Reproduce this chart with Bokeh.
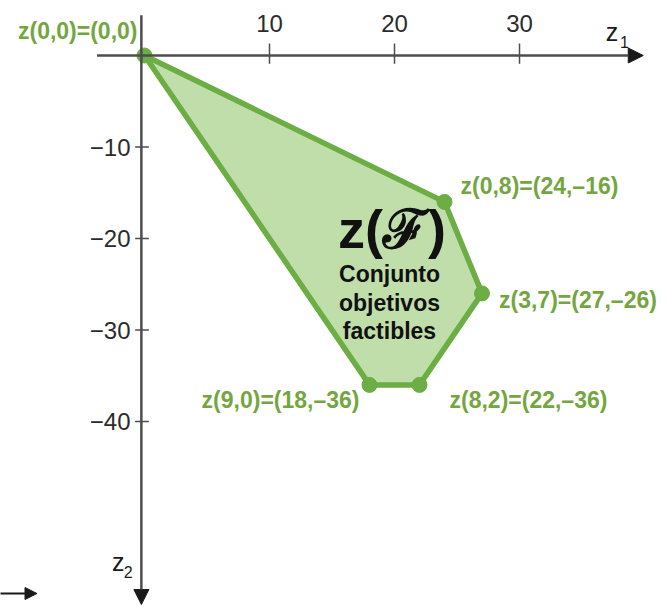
from bokeh.plotting import figure
from bokeh.models import Range1d, Arrow, NormalHead, ColumnDataSource
from bokeh.core.properties import value
from bokeh.embed import file_html
from bokeh.resources import INLINE

# Image of the feasible set in objective space
vertex_names = ["z(0,0)=(0,0)", "z(0,8)=(24,\u201316)", "z(3,7)=(27,\u201326)",
                "z(8,2)=(22,\u201336)", "z(9,0)=(18,\u201336)"]
z1_vals = [0, 24, 27, 22, 18]
z2_vals = [0, -16, -26, -36, -36]

x_ticks = [10, 20, 30]
x_tick_labels = ["10", "20", "30"]
y_ticks = [-10, -20, -30, -40]
y_tick_labels = ["\u221210", "\u221220", "\u221230", "\u221240"]

center_title = "z(\u2131)"
center_lines = ["Conjunto", "objetivos", "factibles"]

W, H = 667, 606
PX_X = 12.5    # pixels per unit on z1
PX_Y = 9.15    # pixels per unit on z2
OX, OY = 144, 55  # pixel position of the origin

GREEN_EDGE = "#6cad44"
GREEN_FILL = "#bcdca4"
GREEN_TEXT = "#74a63f"
AXIS = "#4d4d4d"
FONT = "Liberation Sans"

p = figure(width=W, height=H, output_backend="svg", toolbar_location=None,
           x_axis_location=None, y_axis_location=None, min_border=0,
           x_range=Range1d(-OX / PX_X, (W - OX) / PX_X),
           y_range=Range1d(-(H - OY) / PX_Y, OY / PX_Y))
p.grid.visible = False
p.outline_line_color = None
p.background_fill_color = "white"
p.border_fill_color = "white"

# coordinate axes with arrow heads
p.add_layout(Arrow(x_start=-3.8, y_start=0, x_end=39.9, y_end=0,
                   line_color=AXIS, line_width=2.5,
                   end=NormalHead(size=15, fill_color="#1a1a1a", line_color="#1a1a1a")))
p.add_layout(Arrow(x_start=-0.25, y_start=4.4, x_end=-0.25, y_end=-60.0,
                   line_color=AXIS, line_width=2.5,
                   end=NormalHead(size=15, fill_color="#1a1a1a", line_color="#1a1a1a")))
# small stray arrow in the lower left corner
p.add_layout(Arrow(x_start=-11.6, y_start=-58.8, x_end=-8.6, y_end=-58.8,
                   line_color="#1a1a1a", line_width=2,
                   end=NormalHead(size=12, fill_color="#1a1a1a", line_color="#1a1a1a")))

# tick marks
p.segment(x0=x_ticks, x1=x_ticks, y0=[1.3] * 3, y1=[-0.9] * 3, line_color=AXIS, line_width=1.5)
p.segment(x0=[-0.75] * 4, x1=[0.35] * 4, y0=y_ticks, y1=y_ticks, line_color=AXIS, line_width=1.5)

p.text(x=x_ticks, y=[0] * 3, text=x_tick_labels, y_offset=-32,
       text_align="center", text_baseline="middle",
       text_font=value(FONT), text_font_size="24px", text_color="#2b2b2b")
p.text(x=[0] * 4, y=y_ticks, text=y_tick_labels, x_offset=-14,
       text_align="right", text_baseline="middle",
       text_font=value(FONT), text_font_size="24px", text_color="#2b2b2b")

# axis names
p.text(x=[37.4], y=[2.6], text=["z"], text_align="center", text_baseline="middle",
       text_font=value(FONT), text_font_size="25px", text_color="#1a1a1a")
p.text(x=[38.4], y=[1.5], text=["1"], text_align="center", text_baseline="middle",
       text_font=value(FONT), text_font_size="16px", text_color="#1a1a1a")
p.text(x=[-2.1], y=[-55.4], text=["z"], text_align="center", text_baseline="middle",
       text_font=value(FONT), text_font_size="25px", text_color="#1a1a1a")
p.text(x=[-1.3], y=[-56.5], text=["2"], text_align="center", text_baseline="middle",
       text_font=value(FONT), text_font_size="16px", text_color="#1a1a1a")

# feasible objective region
p.patch(x=z1_vals, y=z2_vals, fill_color=GREEN_FILL, fill_alpha=0.95,
        line_color=GREEN_EDGE, line_width=5.5, line_join="round")
p.scatter(x=z1_vals, y=z2_vals, size=15, fill_color=GREEN_EDGE, line_color=GREEN_EDGE)

# vertex labels
src = ColumnDataSource(dict(
    x=z1_vals, y=z2_vals, text=vertex_names,
    align=["right", "left", "left", "left", "right"],
    dx=[-7, 16, 17, 30, -10],
    dy=[-25, -16, 7, 15, 15],
))
p.text(x="x", y="y", text="text", source=src, x_offset="dx", y_offset="dy",
       text_align="align", text_baseline="middle",
       text_font=value(FONT), text_font_style="bold", text_font_size="23px",
       text_color=GREEN_TEXT)

# region caption
p.text(x=[19.8], y=[-19.0], text=[center_title], text_align="center", text_baseline="middle",
       text_font=value(FONT), text_font_style="bold", text_font_size="54px",
       text_color="#111111")
p.text(x=[19.6] * 3, y=[-23.9, -27.1, -30.1], text=center_lines,
       text_align="center", text_baseline="middle",
       text_font=value(FONT), text_font_style="bold", text_font_size="23px",
       text_color="#111111")

open("out.html", "w").write(file_html(p, INLINE))
